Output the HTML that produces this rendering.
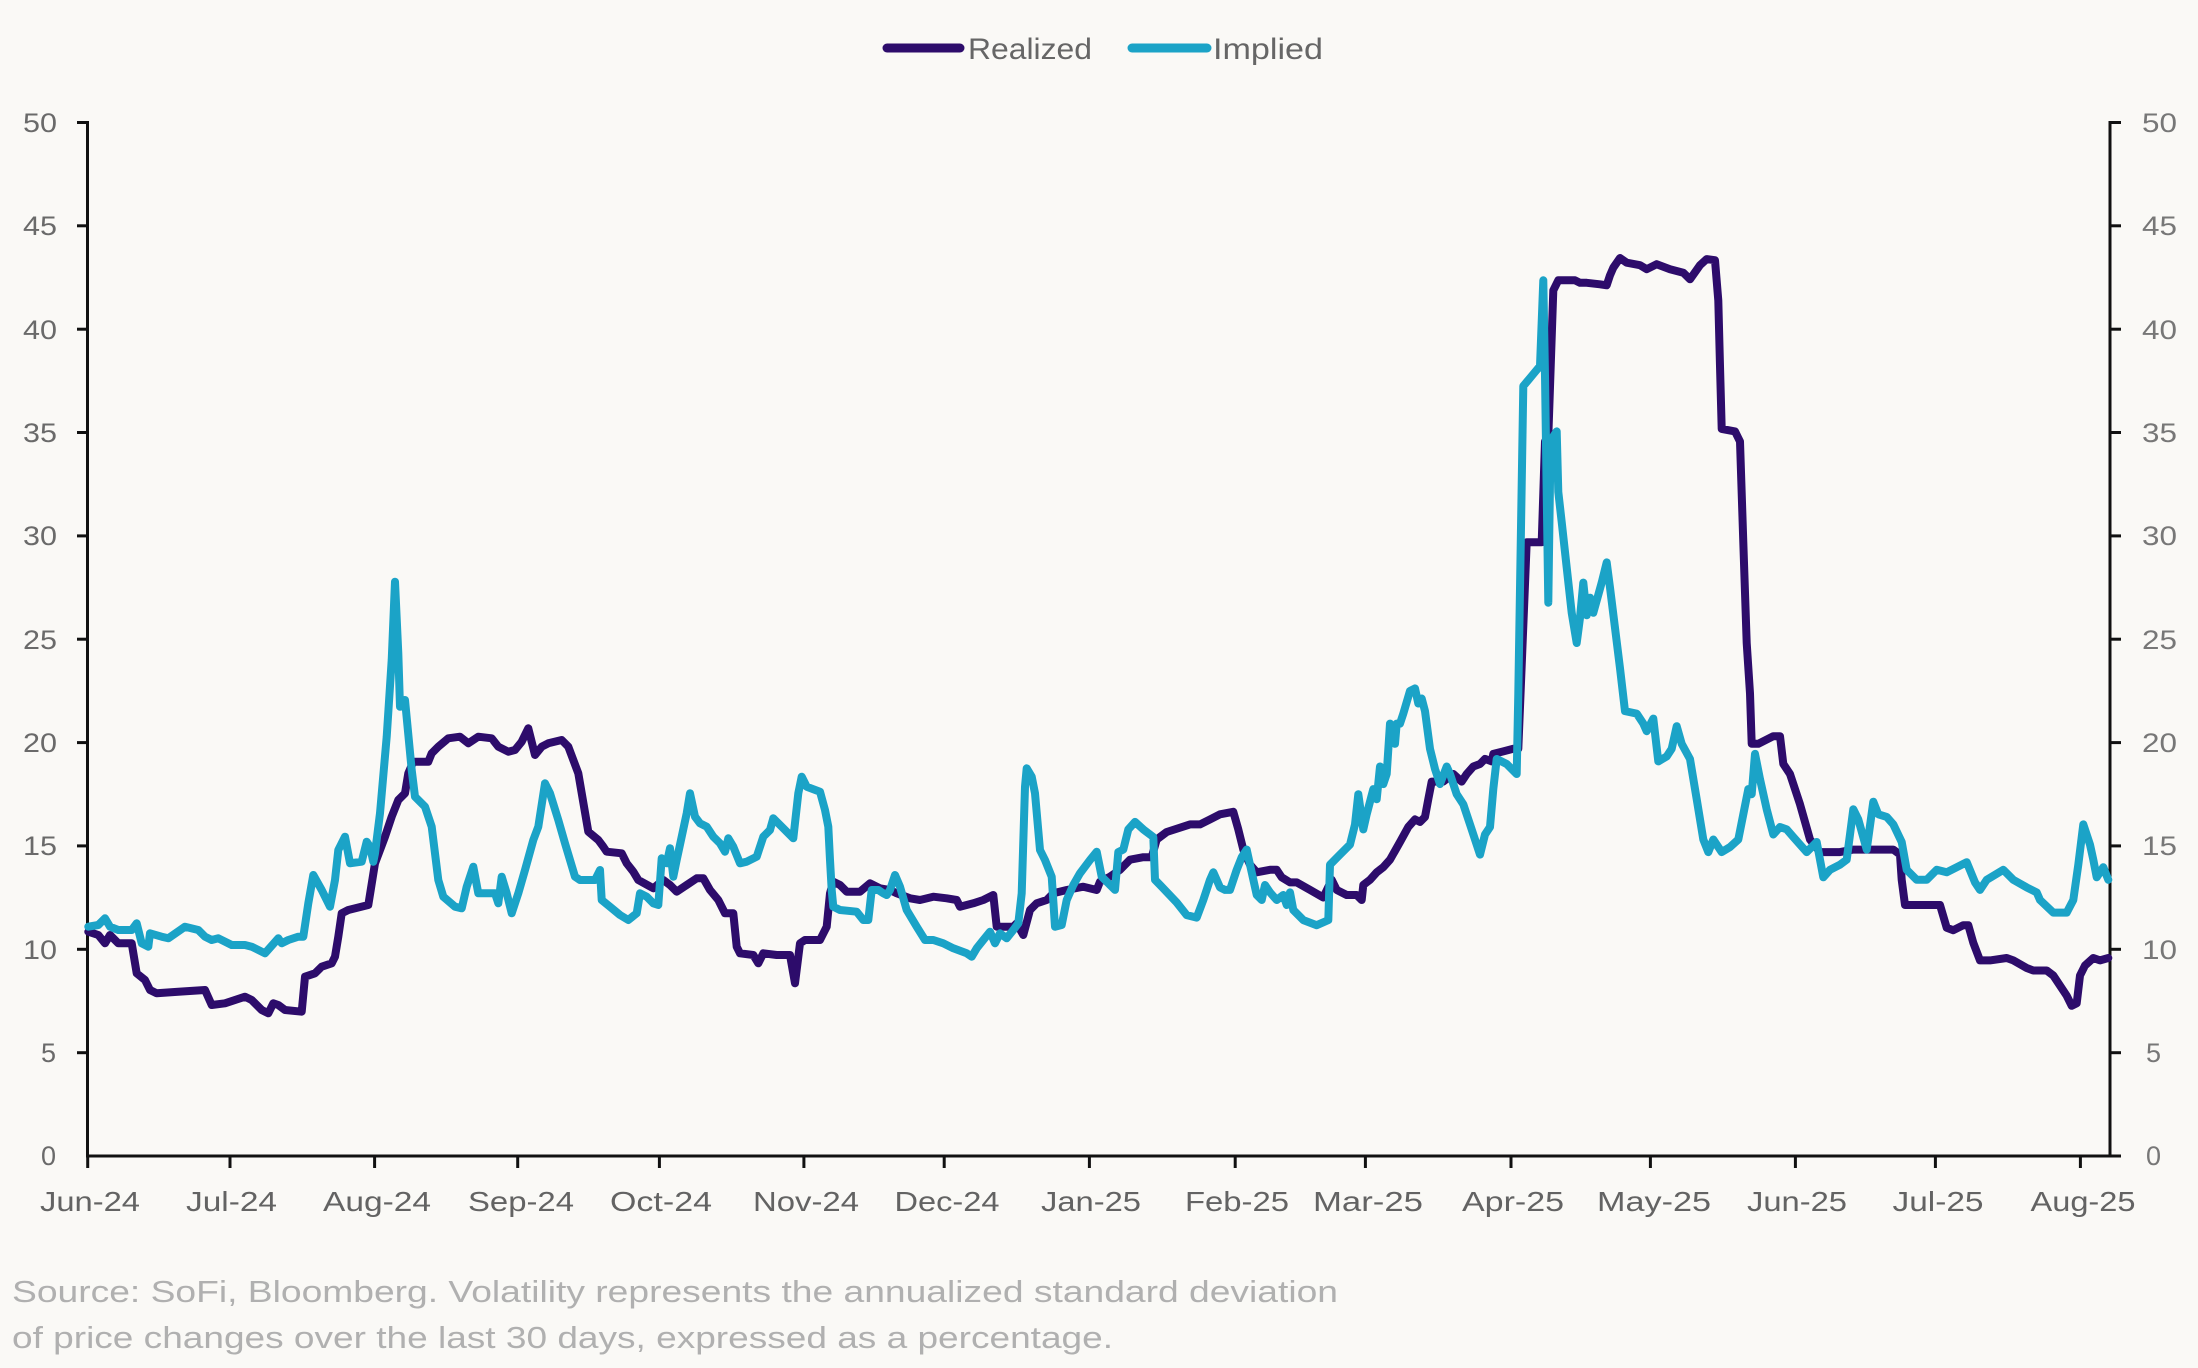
<!DOCTYPE html>
<html>
<head>
<meta charset="utf-8">
<style>
html,body{margin:0;padding:0;background:#faf9f6;}
svg{display:block;}
text{font-family:"Liberation Sans",sans-serif;}
</style>
</head>
<body>
<svg width="2198" height="1368" viewBox="0 0 2198 1368" xmlns="http://www.w3.org/2000/svg">
<rect x="0" y="0" width="2198" height="1368" fill="#faf9f6"/>

<!-- Legend -->
<line x1="887" y1="48" x2="960" y2="48" stroke="#2d0c6b" stroke-width="9" stroke-linecap="round"/>
<text x="968" y="59" font-size="30" fill="#666" textLength="124" lengthAdjust="spacingAndGlyphs">Realized</text>
<line x1="1132" y1="48" x2="1207" y2="48" stroke="#1ba3c7" stroke-width="9" stroke-linecap="round"/>
<text x="1213" y="59" font-size="30" fill="#666" textLength="110" lengthAdjust="spacingAndGlyphs">Implied</text>

<!-- Axes -->
<g stroke="#111" stroke-width="3" fill="none">
<line x1="87.5" y1="121" x2="87.5" y2="1157.5"/>
<line x1="2110" y1="121" x2="2110" y2="1157.5"/>
<line x1="86" y1="1156" x2="2111.5" y2="1156"/>
</g>
<g stroke="#111" stroke-width="3">
<line x1="77" y1="122.5" x2="88" y2="122.5"/>
<line x1="77" y1="225.8" x2="88" y2="225.8"/>
<line x1="77" y1="329.2" x2="88" y2="329.2"/>
<line x1="77" y1="432.5" x2="88" y2="432.5"/>
<line x1="77" y1="535.9" x2="88" y2="535.9"/>
<line x1="77" y1="639.2" x2="88" y2="639.2"/>
<line x1="77" y1="742.6" x2="88" y2="742.6"/>
<line x1="77" y1="845.9" x2="88" y2="845.9"/>
<line x1="77" y1="949.3" x2="88" y2="949.3"/>
<line x1="77" y1="1052.7" x2="88" y2="1052.7"/>
<line x1="2110" y1="122.5" x2="2121" y2="122.5"/>
<line x1="2110" y1="225.8" x2="2121" y2="225.8"/>
<line x1="2110" y1="329.2" x2="2121" y2="329.2"/>
<line x1="2110" y1="432.5" x2="2121" y2="432.5"/>
<line x1="2110" y1="535.9" x2="2121" y2="535.9"/>
<line x1="2110" y1="639.2" x2="2121" y2="639.2"/>
<line x1="2110" y1="742.6" x2="2121" y2="742.6"/>
<line x1="2110" y1="845.9" x2="2121" y2="845.9"/>
<line x1="2110" y1="949.3" x2="2121" y2="949.3"/>
<line x1="2110" y1="1052.7" x2="2121" y2="1052.7"/>
<line x1="2110" y1="1156" x2="2121" y2="1156"/>
<line x1="87.7" y1="1156" x2="87.7" y2="1168"/>
<line x1="230" y1="1156" x2="230" y2="1168"/>
<line x1="374.6" y1="1156" x2="374.6" y2="1168"/>
<line x1="517.7" y1="1156" x2="517.7" y2="1168"/>
<line x1="659.4" y1="1156" x2="659.4" y2="1168"/>
<line x1="803.9" y1="1156" x2="803.9" y2="1168"/>
<line x1="944.2" y1="1156" x2="944.2" y2="1168"/>
<line x1="1089.4" y1="1156" x2="1089.4" y2="1168"/>
<line x1="1235.2" y1="1156" x2="1235.2" y2="1168"/>
<line x1="1365.4" y1="1156" x2="1365.4" y2="1168"/>
<line x1="1511" y1="1156" x2="1511" y2="1168"/>
<line x1="1650.4" y1="1156" x2="1650.4" y2="1168"/>
<line x1="1795.4" y1="1156" x2="1795.4" y2="1168"/>
<line x1="1935.4" y1="1156" x2="1935.4" y2="1168"/>
<line x1="2080.4" y1="1156" x2="2080.4" y2="1168"/>
</g>

<!-- Left y labels -->
<g font-size="27" fill="#6a6a6a" text-anchor="end">
<text x="57" y="132" textLength="34" lengthAdjust="spacingAndGlyphs">50</text>
<text x="57" y="235" textLength="34" lengthAdjust="spacingAndGlyphs">45</text>
<text x="57" y="339" textLength="34" lengthAdjust="spacingAndGlyphs">40</text>
<text x="57" y="442" textLength="34" lengthAdjust="spacingAndGlyphs">35</text>
<text x="57" y="545" textLength="34" lengthAdjust="spacingAndGlyphs">30</text>
<text x="57" y="649" textLength="34" lengthAdjust="spacingAndGlyphs">25</text>
<text x="57" y="752" textLength="34" lengthAdjust="spacingAndGlyphs">20</text>
<text x="57" y="855" textLength="34" lengthAdjust="spacingAndGlyphs">15</text>
<text x="57" y="959" textLength="34" lengthAdjust="spacingAndGlyphs">10</text>
<text x="56" y="1062">5</text>
<text x="56" y="1165">0</text>
</g>
<!-- Right y labels -->
<g font-size="27" fill="#777">
<text x="2142" y="132" textLength="35" lengthAdjust="spacingAndGlyphs">50</text>
<text x="2142" y="235" textLength="35" lengthAdjust="spacingAndGlyphs">45</text>
<text x="2142" y="339" textLength="35" lengthAdjust="spacingAndGlyphs">40</text>
<text x="2142" y="442" textLength="35" lengthAdjust="spacingAndGlyphs">35</text>
<text x="2142" y="545" textLength="35" lengthAdjust="spacingAndGlyphs">30</text>
<text x="2142" y="649" textLength="35" lengthAdjust="spacingAndGlyphs">25</text>
<text x="2142" y="752" textLength="35" lengthAdjust="spacingAndGlyphs">20</text>
<text x="2142" y="855" textLength="35" lengthAdjust="spacingAndGlyphs">15</text>
<text x="2142" y="959" textLength="35" lengthAdjust="spacingAndGlyphs">10</text>
<text x="2146" y="1062">5</text>
<text x="2146" y="1165">0</text>
</g>

<!-- X labels -->
<g font-size="28" fill="#636363" text-anchor="middle">
<text x="90" y="1211" textLength="100" lengthAdjust="spacingAndGlyphs">Jun-24</text>
<text x="231.5" y="1211" textLength="91" lengthAdjust="spacingAndGlyphs">Jul-24</text>
<text x="377" y="1211" textLength="108" lengthAdjust="spacingAndGlyphs">Aug-24</text>
<text x="521" y="1211" textLength="106" lengthAdjust="spacingAndGlyphs">Sep-24</text>
<text x="661" y="1211" textLength="102" lengthAdjust="spacingAndGlyphs">Oct-24</text>
<text x="806" y="1211" textLength="106" lengthAdjust="spacingAndGlyphs">Nov-24</text>
<text x="947" y="1211" textLength="105" lengthAdjust="spacingAndGlyphs">Dec-24</text>
<text x="1091" y="1211" textLength="100" lengthAdjust="spacingAndGlyphs">Jan-25</text>
<text x="1237" y="1211" textLength="104" lengthAdjust="spacingAndGlyphs">Feb-25</text>
<text x="1368" y="1211" textLength="110" lengthAdjust="spacingAndGlyphs">Mar-25</text>
<text x="1513" y="1211" textLength="102" lengthAdjust="spacingAndGlyphs">Apr-25</text>
<text x="1654" y="1211" textLength="114" lengthAdjust="spacingAndGlyphs">May-25</text>
<text x="1797" y="1211" textLength="100" lengthAdjust="spacingAndGlyphs">Jun-25</text>
<text x="1938" y="1211" textLength="91" lengthAdjust="spacingAndGlyphs">Jul-25</text>
<text x="2083" y="1211" textLength="105" lengthAdjust="spacingAndGlyphs">Aug-25</text>
</g>

<!-- Realized -->
<polyline fill="none" stroke="#2d0c6b" stroke-width="8" stroke-linejoin="round" stroke-linecap="round" points="88.3,931.7 98.3,935 105,943.3 110,935 118.3,943.3 131.7,943.3 136.7,973.3 145,980 150,990 156.7,993.3 178.3,991.7 205,990 211.7,1005 225,1003.3 245,996.7 251.7,1000 261.7,1010 268.3,1013.3 273.3,1003.3 278.3,1005 285,1010 301.7,1011.7 305,976.7 315,973.3 321.7,966.7 331.7,963.3 335,956.7 338.3,936.7 341.7,913.3 348.3,910 368.3,905 375,863.3 385,836.7 391.7,816.7 398.3,800 405,793.3 408.3,773.3 413.3,761.7 428.3,761.7 431.7,753.3 438.3,746.7 448.3,738.3 460,736.7 468.3,743.3 478.3,736.7 491.7,738.3 498.3,746.7 508.3,751.7 515,750 521.7,741.7 528.3,728.3 535,755 541.7,746.7 548.3,743.3 561.7,740 568.3,746.7 578.3,773.3 588.3,831.7 598.3,840 603.3,846.7 606.7,851.7 621.7,853.3 626.7,863.3 633.3,871.7 638.3,880 653.3,888.3 663.3,880 670,885 676.7,891.7 686.7,885 696.7,878.3 703.3,878.3 710,890 718.3,900 725,913.3 733.3,913.3 736.7,946.7 740,953.3 753.3,955 758.3,963.3 763.3,953.3 776.7,955 790,955 795,983.3 800,943.3 805,940 820,940 826.7,926.7 830,893.3 833.3,881.7 840,885 846.7,891.7 860,891.7 870,883.3 880,888.3 890,890 896.7,893.3 910,898.3 920,900 933.3,896.7 946.7,898.3 956.7,900 960,906.7 973.3,903.3 983.3,900 993.3,895 996.7,926.7 1006.7,926.7 1013.3,926.7 1016.7,923.3 1023.3,935 1030,910 1036.7,903.3 1046.7,900 1053.3,893.3 1066.7,890 1083.3,886.7 1096.7,890 1100,881.7 1110,876.7 1120,869.8 1130,859.7 1143.3,857.2 1151.7,857.2 1156.7,839.5 1166.7,832 1190,824.4 1200,824.4 1210,819.4 1220,814.3 1233.3,811.8 1238.3,829.4 1243.3,849.6 1250,864.7 1256.7,872.3 1270,869.8 1276.7,869.8 1281.7,877.3 1290,882.4 1296.7,882.4 1310,889.9 1323.3,897.5 1331.7,879.8 1336.7,889.9 1346.7,895 1356.7,895 1361.7,900 1363.3,884.9 1370,879.8 1376.7,872.3 1383.3,867.2 1390,859.7 1400,842 1408.3,826.9 1415,819.4 1420,821.9 1425,816.9 1428.3,799.2 1431.7,781.6 1443.3,781.6 1453.3,774 1461.7,781.6 1466.7,774 1473.3,766.5 1480,764 1485,758.9 1491.7,761.4 1493.3,753.9 1503.3,751.4 1513.3,748.8 1518.3,748.8 1526.7,542.3 1533.3,542.3 1541.7,542.3 1545,441.5 1548.3,436.5 1553.3,290.4 1558.3,280.3 1575,280.3 1580,282.8 1586.7,282.8 1600,284.3 1606.7,285.3 1610,275.3 1613.3,267.7 1620,258 1626.7,262.7 1640,265.2 1646.7,269.2 1656.7,264.2 1670,269.2 1683.3,272.7 1690,279.3 1700,265.2 1706.7,259.1 1715,260.2 1718.3,300.5 1720,366 1721.7,428.9 1735,431.4 1740,441.5 1743.3,542.3 1746.7,643 1750,693.4 1751.7,743.8 1758.3,743.8 1773.3,736.2 1780,736.2 1783.3,763.9 1790,774 1800,804.3 1810,839.5 1820,852.1 1840,852.1 1853.3,849.6 1873.3,849.6 1893.3,849.6 1900,854.6 1901.7,879.8 1905,905 1913.3,905 1940,905 1946.7,927.7 1953.3,930.2 1963.3,925.2 1968.3,925.2 1973.3,942.8 1980,960.4 1990,960.4 2006.7,958 2013.3,960.4 2026.7,968 2033.3,970.5 2046.7,970.5 2053.3,975.5 2066.7,995.7 2071.7,1005.8 2076.7,1003.3 2080,975.5 2085,965.5 2093.3,958 2100,960.4 2108.3,958"/>

<!-- Implied -->
<polyline fill="none" stroke="#1ba3c7" stroke-width="8" stroke-linejoin="round" stroke-linecap="round" points="88.3,926.7 98.3,925 105,918.3 110,926.7 118.3,930 131.7,930 136.7,923.3 141.7,943.3 148.3,946.7 150,933.3 161.7,936.7 168.3,938.3 185,926.7 198.3,930 205,936.7 211.7,940 218.3,938.3 231.7,945 245,945 251.7,946.7 265,953.3 278.3,938.3 281.7,943.3 288.3,940 298.3,936.7 303.3,936.7 308.3,903.3 313.3,875 321.7,890 330,906.7 335,880 338.3,850 345,836.7 350,863.3 361.7,861.7 366.7,841.7 370,846.7 373.3,861.7 375,853.3 380,813.3 386.7,736.7 391.7,660 395,581.7 398.3,653.3 400,706.7 405,700 411.7,770 415,796.7 425,806.7 431.7,826.7 438.3,880 443.3,896.7 455,906.7 461.7,908.3 466.7,886.7 473.3,866.7 478.3,893.3 488.3,893.3 495,893.3 498.3,903.3 501.7,876.7 506.7,893.3 511.7,913.3 518.3,893.3 525,870 533.3,840 538.3,826.7 545,783.3 550,793.3 558.3,820 565,843.3 575,876.7 580,880 595,880 600,870 601.7,900 610,906.7 620,915 628.3,920 636.7,913.3 640,893.3 646.7,896.7 653.3,903.3 658.3,905 661.7,858.3 666.7,863.3 670,848.3 673.3,876.7 676.7,860 681.7,836.7 686.7,813.3 690,793.3 695,816.7 700,823.3 706.7,826.7 713.3,836.7 720,843.3 725,851.7 728.3,838.3 733.3,846.7 740,863.3 746.7,861.7 756.7,856.7 763.3,836.7 770,830 773.3,818.3 781.7,826.7 793.3,838.3 798.3,793.3 801.7,776.7 806.7,786.7 820,791.7 825,810 828.3,826.7 830,860 831.7,890 833.3,906.7 840,910 856.7,911.7 863.3,920 868.3,920 871.7,890 878.3,890 883.3,893.3 886.7,895 890,890 895,875 900,886.7 906.7,910 916.7,926.7 925,940 933.3,940 943.3,943.3 953.3,948.3 966.7,953.3 971.7,956.7 976.7,948.3 983.3,940 990,931.7 995,943.3 1000,933.3 1006.7,938.3 1013.3,930 1018.3,923.3 1021.7,893.3 1025,786.7 1026.7,768.3 1031.7,776.7 1035,793.3 1040,850 1045,860 1051.7,876.7 1055,926.7 1061.7,925 1066.7,900 1073.3,885 1080,873.3 1090,860 1096.7,851.7 1101.7,876.7 1106.7,881.7 1115,889.9 1118.3,852.1 1123.3,849.6 1128.3,829.4 1135,821.9 1143.3,829.4 1153.3,837 1155,879.8 1160,884.9 1176.7,902.5 1186.7,915.1 1196.7,917.6 1203.3,900 1210,879.8 1213.3,872.3 1220,887.4 1225,889.9 1230,889.9 1236.7,869.8 1241.7,857.2 1246.7,849.6 1250,864.7 1256.7,894.9 1261.7,900 1265,885 1270,892.4 1276.7,900 1283.3,895 1286.7,905 1290,892.4 1293.3,910 1303.3,920.1 1316.7,925.2 1328.3,920.1 1330,864.7 1340,854.6 1350,844.6 1355,824.4 1358.3,794.2 1363.3,829.4 1366.7,814.3 1373.3,789.1 1376.7,799.2 1380,766.5 1383.3,784.1 1386.7,774 1390,723.6 1395,743.8 1396.7,723.6 1400,723.6 1403.3,713.6 1410,690.9 1415,688.4 1418.3,703.5 1421.7,698.5 1425,711.1 1430,748.8 1435,769 1440,784.1 1446.7,766.5 1450,774 1456.7,794.2 1463.3,804.3 1470,824.4 1480,854.6 1485,834.5 1490,827 1493.3,789.1 1496.7,759 1506.7,764 1516.7,774 1518.3,693.4 1523.3,386.1 1531.7,376 1540,366 1543.3,280.3 1545,376 1548.3,602.7 1550,481.8 1553.3,436.5 1556.7,431.4 1558.3,491.9 1561.7,522.1 1566.7,567.5 1571.7,612.8 1576.7,643 1580,617.9 1583.3,582.6 1586.7,615.3 1590,597.7 1593.3,612.8 1601.7,582.6 1606.7,562.4 1610,587.6 1615,627.9 1620,668.2 1625,711.1 1636.7,713.6 1643.3,723.6 1646.7,731.2 1653.3,718.6 1658.3,761.4 1666.7,756.4 1671.7,748.8 1676.7,726.2 1681.7,743.8 1690,759 1696.7,799.2 1703.3,839.5 1708.3,852.1 1713.3,839.5 1721.7,852.1 1730,847.1 1738.3,839.5 1743.3,814.3 1748.3,789.1 1751.7,794.2 1755,753.9 1760,779.1 1766.7,809.3 1773.3,834.5 1780,827 1786.7,829.4 1793.3,837 1806.7,852.1 1816.7,842 1823.3,877.3 1830,869.8 1840,864.7 1846.7,859.7 1853.3,809.3 1858.3,819.4 1866.7,849.6 1873.3,801.7 1878.3,814.3 1886.7,816.9 1893.3,824.4 1901.7,842 1906.7,869.8 1916.7,879.8 1926.7,879.8 1936.7,869.8 1946.7,872.3 1966.7,862.2 1975,882.4 1980,889.9 1986.7,879.8 2003.3,869.8 2013.3,879.8 2026.7,887.4 2036.7,892.4 2040,900 2053.3,912.6 2066.7,912.6 2073.3,900 2078.3,864.7 2083.3,824.4 2090,844.6 2093.3,859.7 2096.7,877.3 2103.3,867.2 2108.3,879.8"/>

<!-- Footnote -->
<g font-size="31" fill="#b0b0b0">
<text x="12" y="1302" textLength="1326" lengthAdjust="spacingAndGlyphs">Source: SoFi, Bloomberg. Volatility represents the annualized standard deviation</text>
<text x="12" y="1348" textLength="1101" lengthAdjust="spacingAndGlyphs">of price changes over the last 30 days, expressed as a percentage.</text>
</g>
</svg>
</body>
</html>
